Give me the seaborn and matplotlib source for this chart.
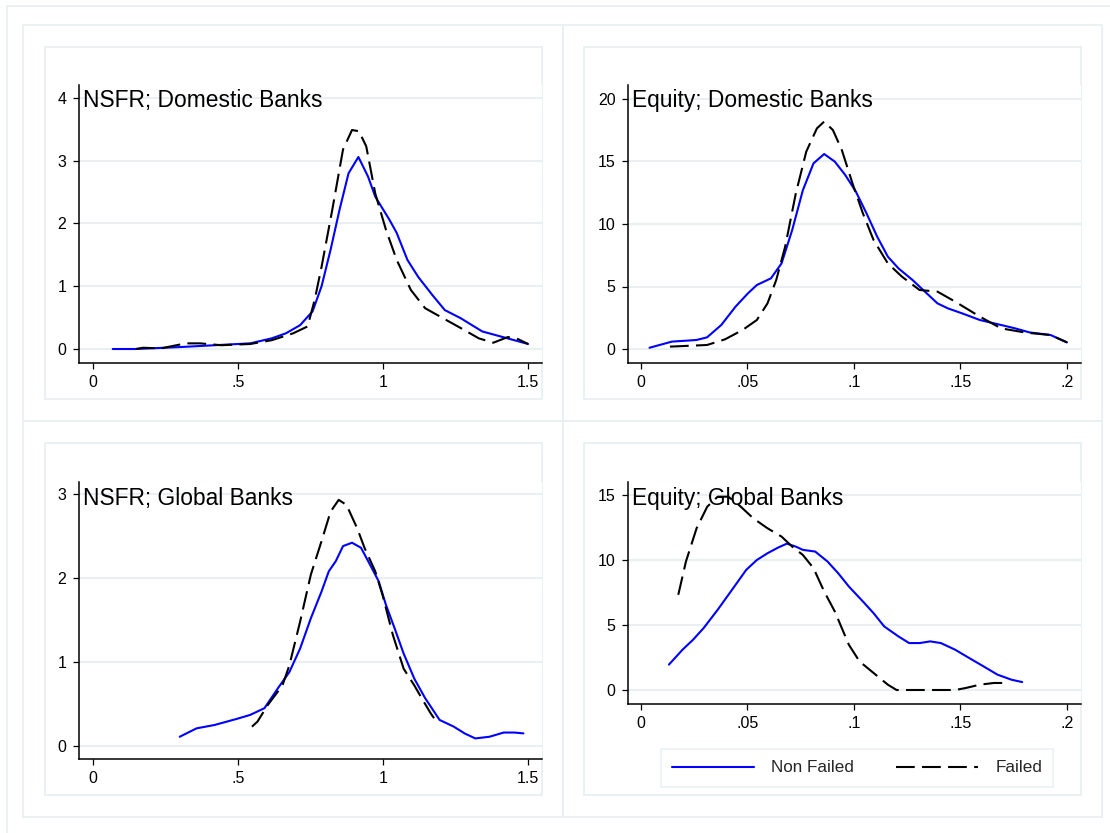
import numpy as np
import pandas as pd
import matplotlib
matplotlib.use("Agg")
import matplotlib.pyplot as plt
from matplotlib.patches import Rectangle
import seaborn as sns

# --- datos (densidades kernel) ---
nsfr_dom_nf_x = [0.068, 0.148, 0.296, 0.419, 0.542, 0.616, 0.665, 0.714, 0.757, 0.788, 0.819, 0.850, 0.881,
                 0.915, 0.948, 0.973, 0.998, 1.022, 1.047, 1.084, 1.121, 1.170, 1.213, 1.268, 1.342, 1.429, 1.5]
nsfr_dom_nf_y = [0.0, 0.0, 0.03, 0.06, 0.09, 0.17, 0.25, 0.38, 0.60, 1.0, 1.58, 2.22, 2.80,
                 3.06, 2.75, 2.43, 2.24, 2.06, 1.85, 1.42, 1.15, 0.86, 0.62, 0.49, 0.28, 0.17, 0.08]
nsfr_dom_f_x = [0.148, 0.172, 0.234, 0.32, 0.37, 0.443, 0.542, 0.616, 0.69, 0.74, 0.764, 0.788, 0.825, 0.862,
                0.893, 0.917, 0.942, 0.973, 1.01, 1.047, 1.096, 1.145, 1.207, 1.281, 1.33, 1.38, 1.43, 1.46, 1.5]
nsfr_dom_f_y = [0.0, 0.02, 0.01, 0.09, 0.09, 0.06, 0.08, 0.14, 0.25, 0.36, 0.78, 1.31, 2.22, 3.18,
                3.49, 3.47, 3.23, 2.48, 1.90, 1.42, 0.94, 0.65, 0.49, 0.30, 0.17, 0.10, 0.19, 0.17, 0.08]

eq_dom_nf_x = [0.004, 0.0145, 0.026, 0.031, 0.0377, 0.0444, 0.0502, 0.0544, 0.061, 0.066, 0.071, 0.076, 0.081,
               0.086, 0.091, 0.0959, 0.1009, 0.1059, 0.1109, 0.1159, 0.1209, 0.1275, 0.1325, 0.1392, 0.1441,
               0.1508, 0.1591, 0.1691, 0.1757, 0.1824, 0.1923, 0.2]
eq_dom_nf_y = [0.1, 0.59, 0.72, 0.93, 1.92, 3.39, 4.45, 5.12, 5.65, 6.85, 9.52, 12.7, 14.85,
               15.6, 14.99, 13.92, 12.59, 10.85, 8.99, 7.39, 6.45, 5.52, 4.72, 3.65, 3.25,
               2.85, 2.32, 1.92, 1.65, 1.33, 1.12, 0.53]
eq_dom_f_x = [0.0136, 0.031, 0.0394, 0.0477, 0.0544, 0.0594, 0.0635, 0.0677, 0.0727, 0.0776, 0.0826, 0.086,
              0.0901, 0.0943, 0.0993, 0.1042, 0.1092, 0.1159, 0.1225, 0.1308, 0.1392, 0.1475, 0.1591, 0.1691,
              0.1807, 0.1923, 0.2]
eq_dom_f_y = [0.19, 0.32, 0.77, 1.52, 2.32, 3.65, 5.52, 8.19, 12.45, 15.79, 17.65, 18.19,
              17.52, 15.92, 13.25, 10.85, 8.72, 6.85, 5.79, 4.72, 4.59, 3.79, 2.59, 1.65,
              1.31, 1.12, 0.53]

nsfr_glo_nf_x = [0.299, 0.357, 0.419, 0.493, 0.542, 0.591, 0.64, 0.677, 0.714, 0.751, 0.788, 0.813, 0.837, 0.862,
                 0.893, 0.924, 0.961, 0.985, 1.01, 1.04, 1.071, 1.108, 1.145, 1.195, 1.244, 1.281, 1.318, 1.367,
                 1.416, 1.453, 1.484]
nsfr_glo_nf_y = [0.11, 0.21, 0.25, 0.32, 0.37, 0.45, 0.70, 0.88, 1.16, 1.52, 1.84, 2.08, 2.20, 2.38,
                 2.42, 2.36, 2.12, 1.96, 1.68, 1.40, 1.10, 0.80, 0.57, 0.31, 0.23, 0.15, 0.09, 0.11,
                 0.16, 0.16, 0.15]
nsfr_glo_f_x = [0.548, 0.567, 0.603, 0.653, 0.677, 0.714, 0.751, 0.788, 0.819, 0.847, 0.874, 0.911, 0.936, 0.973,
                0.998, 1.034, 1.071, 1.108, 1.133, 1.164, 1.188]
nsfr_glo_f_y = [0.23, 0.29, 0.49, 0.72, 0.96, 1.48, 2.04, 2.44, 2.79, 2.93, 2.87, 2.59, 2.36, 2.08,
                1.80, 1.32, 0.92, 0.72, 0.57, 0.39, 0.27]

eq_glo_nf_x = [0.0131, 0.0195, 0.0244, 0.0294, 0.036, 0.0427, 0.0494, 0.0544, 0.0594, 0.0643, 0.0685, 0.0727,
               0.076, 0.0818, 0.0876, 0.0926, 0.0976, 0.1042, 0.1092, 0.1142, 0.1209, 0.1259, 0.1308, 0.1358,
               0.1408, 0.1475, 0.1541, 0.1608, 0.1674, 0.174, 0.179]
eq_glo_nf_y = [1.95, 3.10, 3.86, 4.76, 6.17, 7.70, 9.24, 10.0, 10.52, 10.95, 11.26, 11.03,
               10.78, 10.65, 9.88, 8.98, 7.96, 6.81, 5.91, 4.89, 4.12, 3.61, 3.61, 3.74,
               3.61, 3.10, 2.46, 1.82, 1.18, 0.79, 0.61]
eq_glo_f_x = [0.0175, 0.0211, 0.0261, 0.0311, 0.036, 0.041, 0.046, 0.0527, 0.0594, 0.066, 0.071, 0.076, 0.081,
              0.086, 0.091, 0.0943, 0.0976, 0.1026, 0.1092, 0.1159, 0.12, 0.1259, 0.1342, 0.1475, 0.1524,
              0.1591, 0.1657, 0.173]
eq_glo_f_y = [7.32, 9.88, 12.44, 14.1, 14.87, 14.87, 14.23, 13.21, 12.44, 11.8, 11.03, 10.39, 9.37,
              7.58, 6.04, 4.76, 3.48, 2.20, 1.31, 0.41, 0.0, 0.0, 0.0, 0.0, 0.15,
              0.41, 0.54, 0.54]

titulos = ["NSFR; Domestic Banks", "Equity; Domestic Banks", "NSFR; Global Banks", "Equity; Global Banks"]
grupos = ["Non Failed", "Failed"]

nsfr_xticks = [0, 0.5, 1, 1.5]
nsfr_xlabels = ["0", ".5", "1", "1.5"]
eq_xticks = [0, 0.05, 0.1, 0.15, 0.2]
eq_xlabels = ["0", ".05", ".1", ".15", ".2"]
yticks_list = [[0, 1, 2, 3, 4], [0, 5, 10, 15, 20], [0, 1, 2, 3], [0, 5, 10, 15]]

series = [
    (nsfr_dom_nf_x, nsfr_dom_nf_y, nsfr_dom_f_x, nsfr_dom_f_y),
    (eq_dom_nf_x, eq_dom_nf_y, eq_dom_f_x, eq_dom_f_y),
    (nsfr_glo_nf_x, nsfr_glo_nf_y, nsfr_glo_f_x, nsfr_glo_f_y),
    (eq_glo_nf_x, eq_glo_nf_y, eq_glo_f_x, eq_glo_f_y),
]

# --- estilo ---
sns.set_style("white")
plt.rcParams["font.family"] = ["Liberation Sans", "DejaVu Sans"]

W, H = 1110, 833
GRIS = "#E8F0F2"
fig = plt.figure(figsize=(W / 100, H / 100), dpi=100)
fig.patch.set_facecolor("white")


def caja(l, t, r, b, lw=1.3):
    rect = Rectangle((l / W, 1 - b / H), (r - l) / W, (b - t) / H, transform=fig.transFigure,
                     fill=False, edgecolor=GRIS, linewidth=lw, zorder=-5)
    fig.add_artist(rect)


# marcos tipo Stata
caja(7, 6, 1125, 850)
caja(23, 25, 563, 421)
caja(563, 25, 1102, 421)
caja(23, 421, 563, 817)
caja(563, 421, 1102, 817)
caja(45, 47, 542, 399)
caja(584, 47, 1081, 399)
caja(45, 443, 542, 795)
caja(584, 443, 1081, 795)

# posiciones de los ejes en pixeles (izq, arriba, der, abajo) y limites
ejes_px = [(79, 85, 542, 363), (628, 85, 1081, 363), (79, 482, 542, 759), (628, 482, 1081, 704)]
xlims = [(-0.0483, 1.548), (-0.0061, 0.2066), (-0.0483, 1.548), (-0.0061, 0.2066)]
ylims = [(-0.223, 4.207), (-1.12, 21.12), (-0.155, 3.143), (-1.077, 16.0)]

paleta = {"Non Failed": "#0000FF", "Failed": "black"}
estilos = {"Non Failed": "", "Failed": (9, 3.5)}

for i, (l, t, r, b) in enumerate(ejes_px):
    ax = fig.add_axes([l / W, 1 - b / H, (r - l) / W, (b - t) / H])
    ax.set_facecolor("white")
    nf_x, nf_y, f_x, f_y = series[i]
    df = pd.DataFrame({
        "x": list(nf_x) + list(f_x),
        "y": list(nf_y) + list(f_y),
        "grupo": ["Non Failed"] * len(nf_x) + ["Failed"] * len(f_x),
    })
    sns.lineplot(data=df, x="x", y="y", hue="grupo", style="grupo", palette=paleta,
                 dashes=estilos, sort=False, estimator=None, linewidth=1.5,
                 hue_order=grupos, style_order=grupos, legend=False, ax=ax)
    for linea in ax.lines:
        linea.set_solid_joinstyle("round")
        linea.set_dash_joinstyle("round")

    ax.set_xlim(*xlims[i])
    ax.set_ylim(*ylims[i])
    if i % 2 == 0:
        ax.set_xticks(nsfr_xticks)
        ax.set_xticklabels(nsfr_xlabels)
    else:
        ax.set_xticks(eq_xticks)
        ax.set_xticklabels(eq_xlabels)
    ax.set_yticks(yticks_list[i])
    ax.set_yticklabels([str(v) for v in yticks_list[i]])
    ax.set_xlabel("")
    ax.set_ylabel("")

    ax.yaxis.grid(True, color=GRIS, linewidth=1.5)
    ax.xaxis.grid(False)
    ax.set_axisbelow(True)
    for lado in ["top", "right"]:
        ax.spines[lado].set_visible(False)
    for lado in ["left", "bottom"]:
        ax.spines[lado].set_color("black")
        ax.spines[lado].set_linewidth(1.1)
    ax.tick_params(axis="both", direction="out", length=4.5, width=0.9, color="black",
                   labelsize=11.5, labelcolor="black", bottom=True, left=True)
    ax.tick_params(axis="x", pad=4)
    ax.tick_params(axis="y", pad=4.5)

    ax.annotate(titulos[i], xy=(0, 1), xycoords="axes fraction", xytext=(4, -16),
                textcoords="offset pixels", ha="left", va="center", fontsize=16.4, color="black")

    if i == 3:
        handles = ax.lines[:2]
        leg = fig.legend(handles, grupos, loc="center", bbox_to_anchor=(857 / W, 1 - 768 / H),
                         ncol=2, frameon=True, fancybox=False, fontsize=12.3, handlelength=4.8,
                         handletextpad=1.0, columnspacing=2.5, borderpad=0.65)
        leg.get_frame().set_edgecolor(GRIS)
        leg.get_frame().set_linewidth(1.3)

fig.savefig("out.png", dpi=100, facecolor="white")
